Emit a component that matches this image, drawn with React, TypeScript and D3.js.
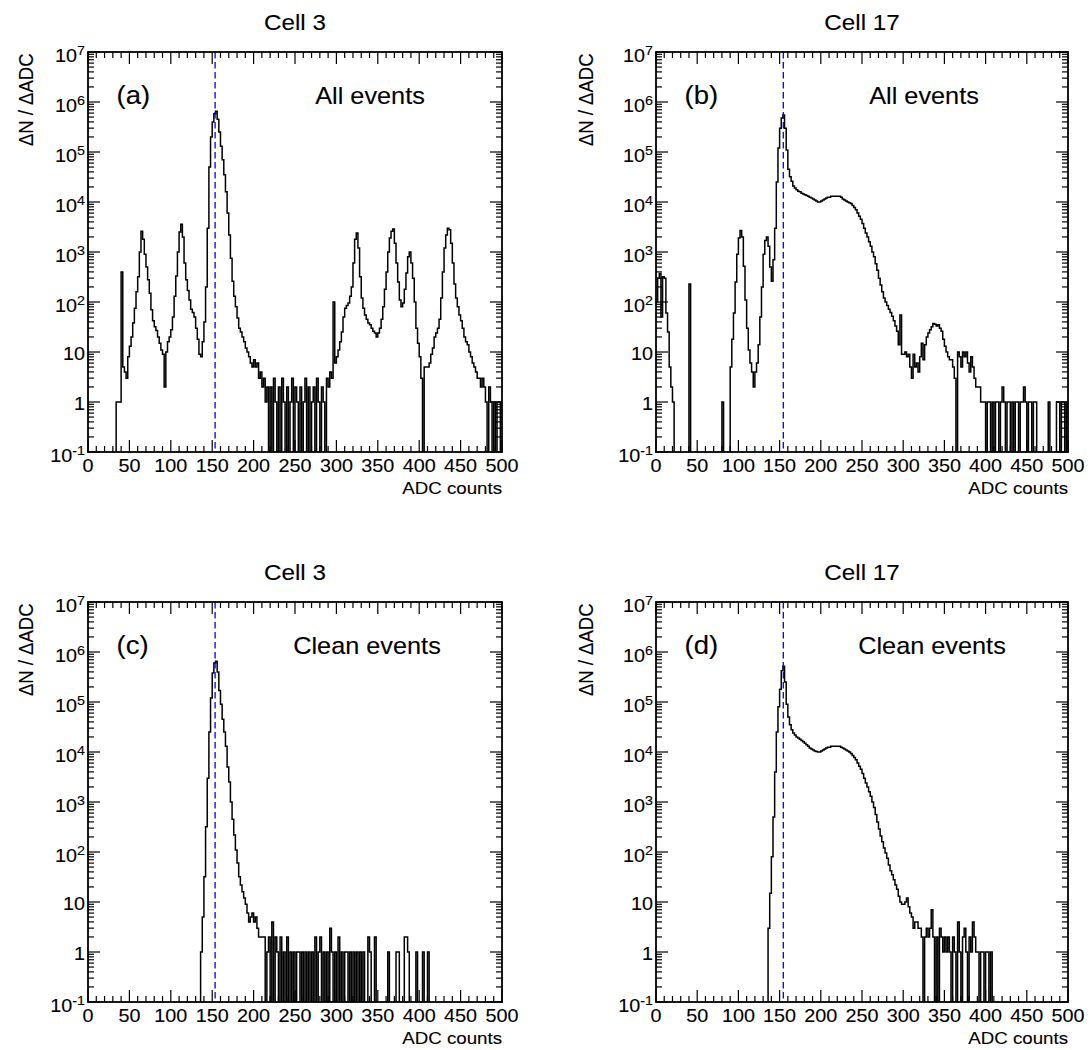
import React from 'react';
import * as d3 from 'd3';

// ---------- data (2-ADC-wide bins from 0 to 500, values are ΔN/ΔADC) ----------
const binWidth = 2;
const xTickValues = [0, 50, 100, 150, 200, 250, 300, 350, 400, 450, 500];
const panelTitles = ['Cell 3', 'Cell 17', 'Cell 3', 'Cell 17'];
const panelTags = ['(a)', '(b)', '(c)', '(d)'];
const panelNotes = ['All events', 'All events', 'Clean events', 'Clean events'];
const pedestals = [153.5, 154.5, 153.5, 154.5];

const cell3All = [
  0, 0, 0, 0, 0, 0, 0, 0, 0, 0,
  0, 0, 0, 0, 0, 0, 0, 1, 1, 1,
  400, 5, 4, 3, 8, 13, 20, 38, 75, 160,
  320, 1000, 2600, 1800, 900, 500, 280, 150, 70, 42,
  32, 27, 20, 15, 11, 9, 2, 10, 16, 20,
  28, 50, 130, 330, 1000, 2500, 3600, 2000, 600, 280,
  170, 110, 72, 62, 50, 30, 18, 9, 8, 16,
  40, 200, 3000, 50000, 200000, 400000, 580000, 650000, 450000, 250000,
  130000, 70000, 35000, 16000, 6000, 2200, 750, 260, 130, 80,
  48, 30, 25, 20, 16, 12, 10, 8, 6, 5,
  7, 5, 6, 3, 4, 2, 3, 1, 2, 0,
  2, 0, 3, 1, 0, 2, 0, 3, 1, 0,
  2, 0, 1, 3, 0, 2, 1, 0, 2, 0,
  1, 3, 0, 2, 0, 1, 2, 0, 3, 1,
  0, 2, 1, 0, 3, 2, 4, 3, 100, 6,
  8, 11, 16, 25, 50, 75, 85, 95, 130, 200,
  600, 1800, 2400, 1200, 320, 120, 75, 55, 45, 38,
  35, 30, 26, 24, 20, 24, 30, 45, 80, 180,
  400, 1000, 1900, 2600, 2900, 1500, 600, 250, 110, 80,
  95, 180, 380, 800, 1000, 600, 300, 100, 30, 15,
  8, 3, 0, 5, 5, 5, 6, 9, 12, 20,
  24, 30, 45, 120, 400, 1200, 2200, 3000, 2800, 1500,
  600, 230, 120, 80, 55, 42, 30, 20, 16, 14,
  10, 8, 6, 5, 4, 3, 3, 2, 3, 2,
  1, 0, 2, 1, 0, 1, 0, 1, 1, 0,
];

const cell17All = [
  100, 300, 370, 50, 320, 300, 60, 25, 5, 2,
  1, 0, 0, 0, 0, 0, 0, 0, 0, 0,
  230, 0, 0, 0, 0, 0, 0, 0, 0, 0,
  0, 0, 0, 0, 0, 0, 0, 0, 0, 0,
  1, 0, 0, 0, 0, 5, 18, 60, 250, 900,
  1900, 2700, 2000, 520, 110, 30, 11, 6, 4, 2,
  4, 6, 14, 50, 200, 900, 1700, 2000, 1300, 500,
  260, 700, 3000, 25000, 120000, 300000, 480000, 550000, 300000, 110000,
  45000, 32000, 26000, 21000, 19000, 17500, 16500, 16000, 15000, 14500,
  14000, 13500, 13000, 12500, 12000, 11500, 11000, 10500, 10000, 10000,
  10500, 11000, 11500, 12000, 12500, 12500, 13000, 13000, 13000, 13000,
  13000, 13000, 12500, 11500, 11000, 10500, 10000, 9700, 9300, 8500,
  7800, 7000, 6000, 5200, 4500, 3700, 3000, 2400, 2000, 1600,
  1300, 1000, 800, 580, 430, 300, 220, 160, 120, 100,
  85, 72, 62, 52, 42, 33, 26, 14, 55, 9,
  9, 10, 8, 9, 5, 3, 9, 5, 6, 4,
  8, 15, 7, 14, 20, 24, 28, 32, 37, 36,
  33, 35, 30, 26, 18, 13, 10, 8, 7, 7,
  5, 3, 0, 10, 8, 5, 10, 8, 10, 6,
  4, 8, 5, 3, 2, 2, 2, 1, 1, 1,
  0, 1, 1, 0, 1, 0, 1, 1, 0, 1,
  2, 1, 0, 1, 1, 0, 1, 0, 1, 1,
  0, 1, 1, 2, 1, 0, 1, 1, 0, 1,
  1, 0, 0, 0, 0, 0, 0, 0, 1, 0,
  0, 0, 0, 1, 1, 0, 1, 1, 0, 1,
];

const cell3Clean = [
  0, 0, 0, 0, 0, 0, 0, 0, 0, 0,
  0, 0, 0, 0, 0, 0, 0, 0, 0, 0,
  0, 0, 0, 0, 0, 0, 0, 0, 0, 0,
  0, 0, 0, 0, 0, 0, 0, 0, 0, 0,
  0, 0, 0, 0, 0, 0, 0, 0, 0, 0,
  0, 0, 0, 0, 0, 0, 0, 0, 0, 0,
  0, 0, 0, 0, 0, 0, 0, 0, 1, 5,
  32, 320, 3000, 25000, 120000, 380000, 600000, 650000, 400000, 170000,
  90000, 45000, 25000, 13000, 5000, 2500, 1000, 450, 220, 110,
  60, 32, 22, 16, 12, 9, 6, 4, 5, 6,
  4, 5, 3, 2, 2, 2, 2, 0, 1, 2,
  0, 4, 0, 2, 1, 0, 2, 0, 1, 0,
  2, 0, 1, 0, 1, 0, 1, 1, 0, 1,
  0, 1, 0, 1, 0, 1, 0, 2, 0, 1,
  2, 0, 1, 0, 1, 0, 3, 1, 0, 1,
  0, 2, 0, 1, 0, 1, 1, 0, 1, 0,
  1, 0, 1, 0, 1, 0, 1, 0, 0, 2,
  1, 0, 0, 2, 0, 0, 0, 0, 0, 0,
  0, 1, 0, 0, 0, 0, 1, 1, 0, 0,
  0, 2, 2, 1, 0, 0, 0, 0, 1, 0,
  0, 0, 1, 0, 0, 1, 0, 0, 0, 0,
  0, 0, 0, 0, 0, 0, 0, 0, 0, 0,
  0, 0, 0, 0, 0, 0, 0, 0, 0, 0,
  0, 0, 0, 0, 0, 0, 0, 0, 0, 0,
  0, 0, 0, 0, 0, 0, 0, 0, 0, 0,
];

const cell17Clean = [
  0, 0, 0, 0, 0, 0, 0, 0, 0, 0,
  0, 0, 0, 0, 0, 0, 0, 0, 0, 0,
  0, 0, 0, 0, 0, 0, 0, 0, 0, 0,
  0, 0, 0, 0, 0, 0, 0, 0, 0, 0,
  0, 0, 0, 0, 0, 0, 0, 0, 0, 0,
  0, 0, 0, 0, 0, 0, 0, 0, 0, 0,
  0, 0, 0, 0, 0, 0, 0, 0, 3, 15,
  80, 500, 4000, 25000, 80000, 180000, 420000, 520000, 250000, 90000,
  50000, 35000, 28000, 24000, 22000, 20000, 19000, 18000, 17000, 16000,
  15000, 14000, 13000, 12000, 11500, 11000, 10500, 10200, 10000, 10000,
  10500, 11000, 11500, 12000, 12500, 12500, 13000, 13000, 13000, 13000,
  13000, 13000, 12500, 12000, 11500, 11000, 10500, 10000, 9300, 8500,
  7800, 7000, 6000, 5200, 4500, 3700, 3000, 2400, 2000, 1600,
  1300, 1000, 780, 560, 400, 290, 210, 160, 120, 95,
  75, 55, 42, 35, 28, 22, 18, 13, 10, 9,
  9, 10, 12, 8, 6, 5, 3, 4, 4, 3,
  3, 2, 0, 2, 3, 2, 3, 7, 2, 0,
  2, 0, 3, 2, 1, 2, 1, 2, 1, 0,
  2, 1, 0, 4, 1, 0, 2, 3, 1, 0,
  2, 1, 4, 2, 1, 1, 0, 1, 1, 0,
  1, 1, 0, 1, 0, 0, 0, 0, 0, 0,
  0, 0, 0, 0, 0, 0, 0, 0, 0, 0,
  0, 0, 0, 0, 0, 0, 0, 0, 0, 0,
  0, 0, 0, 0, 0, 0, 0, 0, 0, 0,
  0, 0, 0, 0, 0, 0, 0, 0, 0, 0,
];

const panelSeries = [cell3All, cell17All, cell3Clean, cell17Clean];

// ---------- layout ----------
const W = 1091;
const H = 1050;
const FONT = '"Liberation Sans", Arial, Helvetica, sans-serif';
const SX = 1.1;

const frames = [
  { left: 88, right: 502, top: 52, bottom: 452, yTitleX: 33, noteX: 370 },
  { left: 656, right: 1068, top: 52, bottom: 452, yTitleX: 593, noteX: 924 },
  { left: 88, right: 502, top: 602, bottom: 1002, yTitleX: 33, noteX: 367 },
  { left: 656, right: 1068, top: 602, bottom: 1002, yTitleX: 593, noteX: 932 },
];

type TProps = {
  x: number; y: number; size: number; anchor?: string; rotate?: boolean; children: React.ReactNode;
};
const T = ({ x, y, size, anchor = 'start', rotate = false, children }: TProps) => (
  <text
    transform={`translate(${x},${y}) scale(${SX},1)${rotate ? ' rotate(-90)' : ''}`}
    fontSize={size}
    textAnchor={anchor as any}
    fontFamily={FONT}
    fill="#000"
    stroke="#000"
    strokeWidth={0.12}
  >
    {children}
  </text>
);

function Panel({ idx }: { idx: number }) {
  const f = frames[idx];
  const values = panelSeries[idx];
  const x = d3.scaleLinear().domain([0, 500]).range([f.left, f.right]);
  const y = d3.scaleLog().domain([0.1, 1e7]).range([f.bottom, f.top]);
  const floorY = f.bottom + 6;

  const pts: [number, number][] = [];
  values.forEach((v, i) => {
    const yy = v > 0 ? y(v) : floorY;
    pts.push([x(i * binWidth), yy], [x((i + 1) * binWidth), yy]);
  });
  const path = d3.line()(pts) || '';

  const xMinor = d3.range(0, 501, 10);
  const decades = d3.range(-1, 8);
  const yMinor: number[] = [];
  for (let k = -1; k < 7; k++) for (let m = 2; m <= 9; m++) yMinor.push(m * Math.pow(10, k));

  const clipId = `clip${idx}`;
  const ax = { stroke: '#000', strokeWidth: 1.2 };

  return (
    <g>
      <defs>
        <clipPath id={clipId}>
          <rect x={f.left} y={f.top} width={f.right - f.left} height={f.bottom - f.top} />
        </clipPath>
      </defs>
      <path d={path} fill="none" stroke="#000" strokeWidth={1.5} clipPath={`url(#${clipId})`} />
      <line
        x1={x(pedestals[idx])}
        x2={x(pedestals[idx])}
        y1={f.top}
        y2={f.bottom}
        stroke="#0000ff"
        strokeWidth={1.3}
        strokeDasharray="6.5,3.5"
      />
      {xMinor.map((v) => {
        const len = v % 50 === 0 ? 12 : 6;
        const xx = x(v);
        return (
          <g key={`xt${v}`}>
            <line x1={xx} x2={xx} y1={f.bottom} y2={f.bottom - len} {...ax} />
            <line x1={xx} x2={xx} y1={f.top} y2={f.top + len} {...ax} />
          </g>
        );
      })}
      {decades.map((k) => {
        const yy = y(Math.pow(10, k));
        return (
          <g key={`yd${k}`}>
            <line x1={f.left} x2={f.left + 12} y1={yy} y2={yy} {...ax} />
            <line x1={f.right} x2={f.right - 12} y1={yy} y2={yy} {...ax} />
          </g>
        );
      })}
      {yMinor.map((v, i) => {
        const yy = y(v);
        return (
          <g key={`ym${i}`}>
            <line x1={f.left} x2={f.left + 6} y1={yy} y2={yy} {...ax} />
            <line x1={f.right} x2={f.right - 6} y1={yy} y2={yy} {...ax} />
          </g>
        );
      })}
      <rect
        x={f.left}
        y={f.top}
        width={f.right - f.left}
        height={f.bottom - f.top}
        fill="none"
        stroke="#000"
        strokeWidth={1.8}
      />
      {xTickValues.map((v) => (
        <T key={`xl${v}`} x={x(v)} y={f.bottom + 19.7} size={18} anchor="middle">
          {String(v)}
        </T>
      ))}
      {decades.map((k) => {
        const yy = y(Math.pow(10, k));
        if (k === 0 || k === 1) {
          return (
            <T key={`yl${k}`} x={f.left - 3} y={yy + 7.5} size={18} anchor="end">
              {k === 0 ? '1' : '10'}
            </T>
          );
        }
        return (
          <T key={`yl${k}`} x={f.left - 3} y={yy + 9.5} size={18} anchor="end">
            <tspan>10</tspan>
            <tspan dy={-7} fontSize={13}>{String(k)}</tspan>
          </T>
        );
      })}
      <T x={(f.left + f.right) / 2} y={f.top - 22.5} size={22} anchor="middle">
        {panelTitles[idx]}
      </T>
      <T x={f.left + 28.5} y={f.top + 52} size={25}>
        {panelTags[idx]}
      </T>
      <T x={f.noteX} y={f.top + 52} size={23} anchor="middle">
        {panelNotes[idx]}
      </T>
      <T x={f.right} y={f.bottom + 42} size={17} anchor="end">
        ADC counts
      </T>
      <T x={f.yTitleX} y={f.top + 1.5} size={18.5} anchor="end" rotate>
        ΔN / ΔADC
      </T>
    </g>
  );
}

export default function App() {
  return (
    <svg
      width={W}
      height={H}
      viewBox={`0 0 ${W} ${H}`}
      style={{ position: 'absolute', left: 0, top: 0, background: '#fff' }}
    >
      <rect x={0} y={0} width={W} height={H} fill="#fff" />
      {[0, 1, 2, 3].map((i) => (
        <Panel key={i} idx={i} />
      ))}
    </svg>
  );
}
